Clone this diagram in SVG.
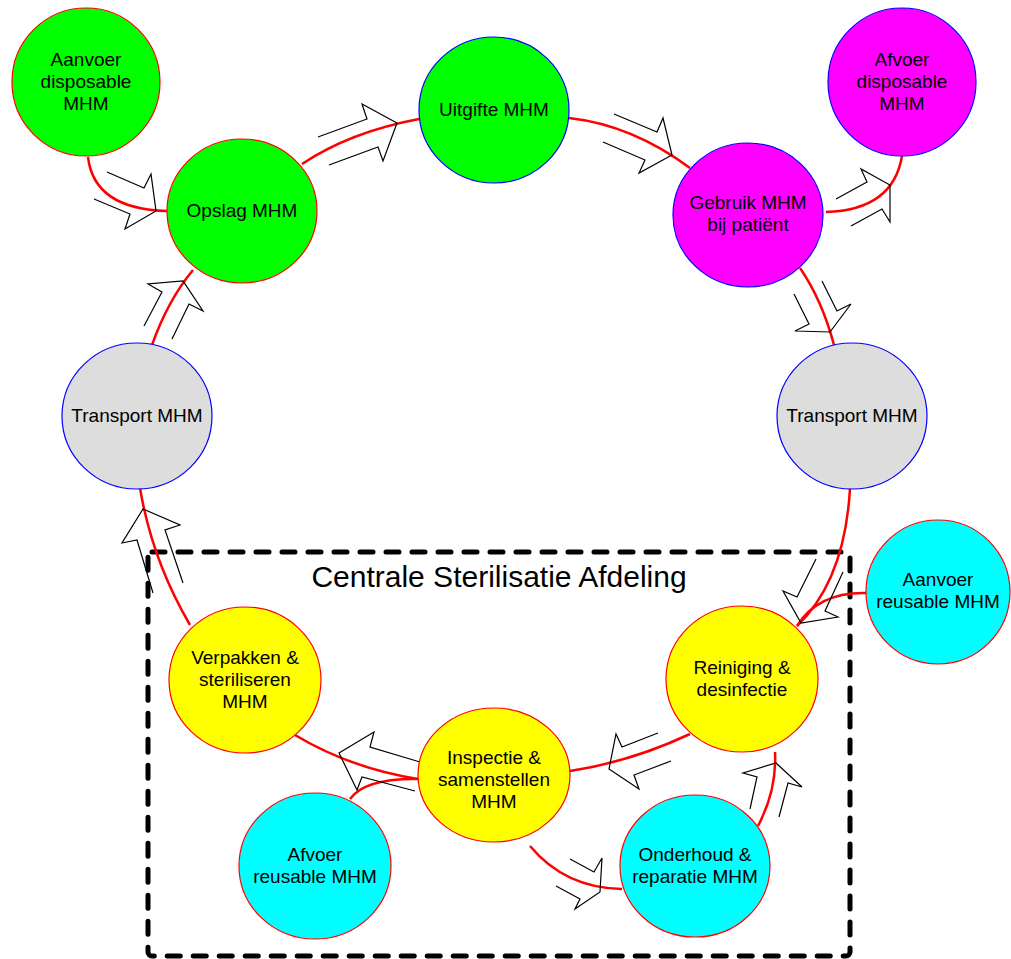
<svg xmlns="http://www.w3.org/2000/svg" width="1011" height="959" viewBox="0 0 1011 959">
  <style>
    .lbl { font-family: "Liberation Sans", Arial, sans-serif; font-size: 19px; fill: #000; text-anchor: middle; }
    .title { font-family: "Liberation Sans", Arial, sans-serif; font-size: 30px; fill: #000; text-anchor: middle; }
    .flow { fill: none; stroke: #ff0000; stroke-width: 2.5; }
    .arrow { fill: none; stroke: #000; stroke-width: 1.2; stroke-linejoin: miter; }
    .green { fill: #00ff00; }
    .mag { fill: #ff00ff; }
    .grey { fill: #dddddd; }
    .cyan { fill: #00ffff; }
    .yel { fill: #ffff00; }
    .redb { stroke: #ff0000; stroke-width: 1.2; }
    .blueb { stroke: #0000ff; stroke-width: 1.2; }
  </style>

  <!-- department boundary -->
  <g id="department">
    <rect x="148" y="552" width="702" height="404" rx="4" fill="none" stroke="#000" stroke-width="5" stroke-dasharray="13 13" stroke-linecap="round"/>
    <text class="title" x="499" y="587">Centrale Sterilisatie Afdeling</text>
  </g>

  <!-- red flow lines and open block arrows -->
  <g id="connectors">
    <path class="flow" d="M88,157 Q94,209 167,211"/>
    <path class="flow" d="M302,164 Q350,132 419,119"/>
    <path class="flow" d="M569,118 Q632,125 690,168"/>
    <path class="flow" d="M826,212 Q893,210 902,156"/>
    <path class="flow" d="M800,268 Q822,300 834,345"/>
    <path class="flow" d="M850,488 Q845,580 797,626"/>
    <path class="flow" d="M866,593 Q818,592 797,626"/>
    <path class="flow" d="M690,734 Q630,762 570,771"/>
    <path class="flow" d="M418,779 Q350,768 295,735"/>
    <path class="flow" d="M350,799 Q365,778 418,779"/>
    <path class="flow" d="M530,846 Q565,888 622,889"/>
    <path class="flow" d="M758,826 Q777,790 775,752"/>
    <path class="flow" d="M190,625 Q152,560 140,488"/>
    <path class="flow" d="M152,345 Q168,300 193,270"/>

    <polyline class="arrow" points="107,172 144,188 151,174 156,211 125,229 130,214 94,199"/>
    <polyline class="arrow" points="318,137 367,119 362,104 397,123 383,161 378,147 329,165"/>
    <polyline class="arrow" points="614,114 657,132 663,118 672,155 639,173 645,160 603,142"/>
    <polyline class="arrow" points="836,199 867,182 861,169 890,185 890,222 882,209 851,226"/>
    <polyline class="arrow" points="794,294 809,324 795,331 830,332 851,304 837,311 822,281"/>
    <polyline class="arrow" points="816,559 797,597 783,591 801,623 838,617 825,611 843,572"/>
    <polyline class="arrow" points="658,733 622,747 616,734 609,769 639,789 634,775 671,761"/>
    <polyline class="arrow" points="420,762 370,747 374,732 339,753 357,790 362,777 415,791"/>
    <polyline class="arrow" points="153,593 137,540 122,543 143,509 180,525 165,530 183,583"/>
    <polyline class="arrow" points="144,326 162,292 148,284 183,281 203,311 189,304 172,339"/>
    <polyline class="arrow" points="570,859 594,872 602,858 600,892 575,909 580,899 556,886"/>
    <polyline class="arrow" points="750,809 757,777 743,773 776,763 802,787 788,783 779,817"/>
  </g>

  <g id="aanvoer-disposable">
    <ellipse class="green redb" cx="86" cy="82" rx="74" ry="74"/>
    <text class="lbl" x="86" y="66">Aanvoer</text>
    <text class="lbl" x="86" y="88">disposable</text>
    <text class="lbl" x="86" y="110">MHM</text>
  </g>

  <g id="opslag">
    <ellipse class="green redb" cx="242" cy="211" rx="75" ry="72"/>
    <text class="lbl" x="242" y="217">Opslag MHM</text>
  </g>

  <g id="uitgifte">
    <ellipse class="green blueb" cx="494" cy="110" rx="75" ry="73"/>
    <text class="lbl" x="494" y="116">Uitgifte MHM</text>
  </g>

  <g id="afvoer-disposable">
    <ellipse class="mag blueb" cx="902" cy="82" rx="74" ry="74"/>
    <text class="lbl" x="902" y="66">Afvoer</text>
    <text class="lbl" x="902" y="88">disposable</text>
    <text class="lbl" x="902" y="110">MHM</text>
  </g>

  <g id="gebruik">
    <ellipse class="mag blueb" cx="748" cy="215" rx="75" ry="72"/>
    <text class="lbl" x="748" y="209">Gebruik MHM</text>
    <text class="lbl" x="748" y="231">bij patiënt</text>
  </g>

  <g id="transport-rechts">
    <ellipse class="grey blueb" cx="852" cy="416" rx="75" ry="73"/>
    <text class="lbl" x="852" y="422">Transport MHM</text>
  </g>

  <g id="transport-links">
    <ellipse class="grey blueb" cx="137" cy="416" rx="75" ry="73"/>
    <text class="lbl" x="137" y="422">Transport MHM</text>
  </g>

  <g id="aanvoer-reusable">
    <ellipse class="cyan redb" cx="938" cy="592" rx="72" ry="72"/>
    <text class="lbl" x="938" y="586">Aanvoer</text>
    <text class="lbl" x="938" y="608">reusable MHM</text>
  </g>

  <g id="reiniging">
    <ellipse class="yel redb" cx="742" cy="679" rx="76" ry="73"/>
    <text class="lbl" x="742" y="674">Reiniging &amp;</text>
    <text class="lbl" x="742" y="696">desinfectie</text>
  </g>

  <g id="verpakken">
    <ellipse class="yel redb" cx="245" cy="680" rx="76" ry="73"/>
    <text class="lbl" x="245" y="664">Verpakken &amp;</text>
    <text class="lbl" x="245" y="686">steriliseren</text>
    <text class="lbl" x="245" y="708">MHM</text>
  </g>

  <g id="inspectie">
    <ellipse class="yel redb" cx="494" cy="775" rx="76" ry="67"/>
    <text class="lbl" x="494" y="764">Inspectie &amp;</text>
    <text class="lbl" x="494" y="786">samenstellen</text>
    <text class="lbl" x="494" y="808">MHM</text>
  </g>

  <g id="afvoer-reusable">
    <ellipse class="cyan redb" cx="315" cy="866" rx="76" ry="73"/>
    <text class="lbl" x="315" y="861">Afvoer</text>
    <text class="lbl" x="315" y="883">reusable MHM</text>
  </g>

  <g id="onderhoud">
    <ellipse class="cyan redb" cx="695" cy="866" rx="75" ry="71"/>
    <text class="lbl" x="695" y="861">Onderhoud &amp;</text>
    <text class="lbl" x="695" y="883">reparatie MHM</text>
  </g>
</svg>
